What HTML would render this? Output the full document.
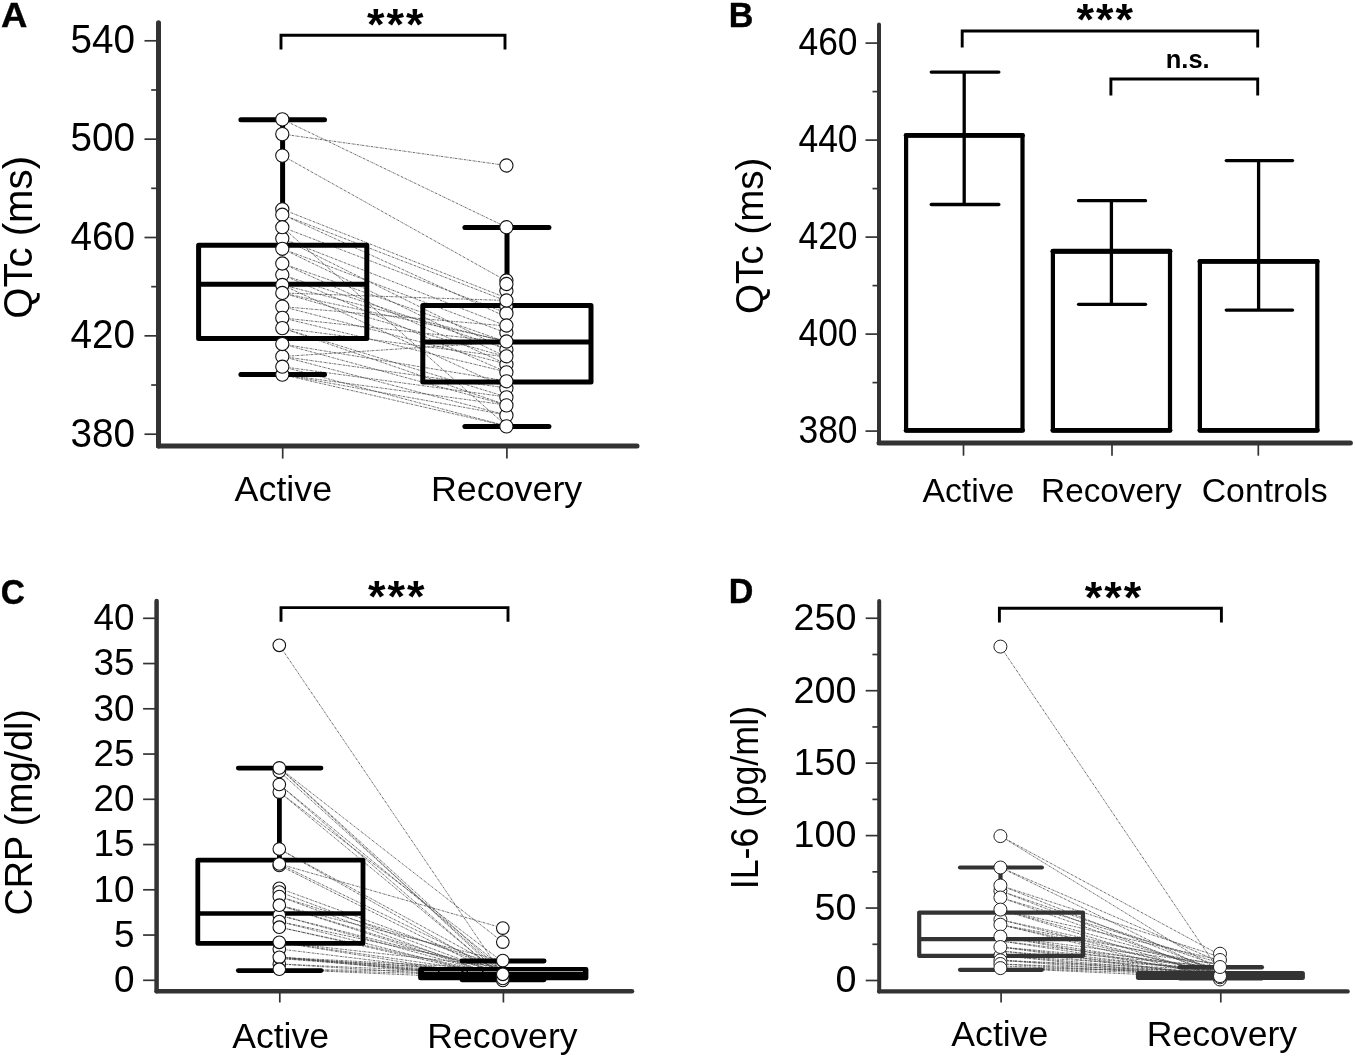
<!DOCTYPE html>
<html><head><meta charset="utf-8"><title>Figure</title>
<style>html,body{margin:0;padding:0;background:#fff}svg{display:block}text{font-family:"Liberation Sans",Arial,Helvetica,sans-serif}</style>
</head><body>
<svg width="1355" height="1059" viewBox="0 0 1355 1059">
<rect width="1355" height="1059" fill="#fff"/>
<line x1="158.50" y1="22.70" x2="158.50" y2="445.90" stroke="#333" stroke-width="5" stroke-linecap="round"/>
<line x1="158.50" y1="445.90" x2="637.00" y2="445.90" stroke="#333" stroke-width="5" stroke-linecap="round"/>
<line x1="144.50" y1="434.20" x2="158.50" y2="434.20" stroke="#333" stroke-width="1.7" stroke-linecap="butt" />
<text transform="translate(135.10 446.50) scale(0.9600 1)" font-size="40.3" text-anchor="end" fill="#000">380</text>
<line x1="144.50" y1="335.85" x2="158.50" y2="335.85" stroke="#333" stroke-width="1.7" stroke-linecap="butt" />
<text transform="translate(135.10 348.15) scale(0.9600 1)" font-size="40.3" text-anchor="end" fill="#000">420</text>
<line x1="144.50" y1="237.50" x2="158.50" y2="237.50" stroke="#333" stroke-width="1.7" stroke-linecap="butt" />
<text transform="translate(135.10 249.80) scale(0.9600 1)" font-size="40.3" text-anchor="end" fill="#000">460</text>
<line x1="144.50" y1="139.15" x2="158.50" y2="139.15" stroke="#333" stroke-width="1.7" stroke-linecap="butt" />
<text transform="translate(135.10 151.45) scale(0.9600 1)" font-size="40.3" text-anchor="end" fill="#000">500</text>
<line x1="144.50" y1="40.80" x2="158.50" y2="40.80" stroke="#333" stroke-width="1.7" stroke-linecap="butt" />
<text transform="translate(135.10 53.10) scale(0.9600 1)" font-size="40.3" text-anchor="end" fill="#000">540</text>
<line x1="151.20" y1="385.02" x2="158.50" y2="385.02" stroke="#333" stroke-width="1.7" stroke-linecap="butt" />
<line x1="151.20" y1="286.67" x2="158.50" y2="286.67" stroke="#333" stroke-width="1.7" stroke-linecap="butt" />
<line x1="151.20" y1="188.32" x2="158.50" y2="188.32" stroke="#333" stroke-width="1.7" stroke-linecap="butt" />
<line x1="151.20" y1="89.97" x2="158.50" y2="89.97" stroke="#333" stroke-width="1.7" stroke-linecap="butt" />
<line x1="282.70" y1="445.90" x2="282.70" y2="458.60" stroke="#333" stroke-width="1.7" stroke-linecap="butt" />
<text transform="translate(283.35 501.40)" font-size="35.8" text-anchor="middle" fill="#000">Active</text>
<line x1="506.90" y1="445.90" x2="506.90" y2="458.60" stroke="#333" stroke-width="1.7" stroke-linecap="butt" />
<text transform="translate(506.60 501.40)" font-size="35.8" text-anchor="middle" fill="#000">Recovery</text>
<text transform="translate(32.20 237.40) rotate(-90)" font-size="40.2" text-anchor="middle" fill="#000">QTc (ms)</text>
<text transform="translate(1.10 26.70) scale(1.0600 1)" font-size="34.5" text-anchor="start" font-weight="bold" stroke="#000" stroke-width="0.4" fill="#000">A</text>
<g stroke="#4a4a4a" stroke-width="0.8" stroke-dasharray="2.4 0.8 0.7 0.8" fill="none">
<line x1="282.40" y1="119.40" x2="506.50" y2="227.20"/>
<line x1="282.40" y1="134.10" x2="506.50" y2="165.50"/>
<line x1="282.40" y1="155.60" x2="506.50" y2="281.00"/>
<line x1="282.40" y1="209.30" x2="506.50" y2="298.00"/>
<line x1="282.40" y1="214.60" x2="506.50" y2="301.00"/>
<line x1="282.40" y1="214.60" x2="506.50" y2="317.00"/>
<line x1="282.40" y1="227.20" x2="506.50" y2="426.00"/>
<line x1="282.40" y1="227.20" x2="506.50" y2="313.00"/>
<line x1="282.40" y1="238.50" x2="506.50" y2="326.00"/>
<line x1="282.40" y1="238.50" x2="506.50" y2="350.00"/>
<line x1="282.40" y1="248.80" x2="506.50" y2="333.00"/>
<line x1="282.40" y1="248.80" x2="506.50" y2="357.00"/>
<line x1="282.40" y1="263.50" x2="506.50" y2="342.00"/>
<line x1="282.40" y1="263.50" x2="506.50" y2="364.00"/>
<line x1="282.40" y1="274.80" x2="506.50" y2="372.00"/>
<line x1="282.40" y1="274.80" x2="506.50" y2="349.00"/>
<line x1="282.40" y1="285.00" x2="506.50" y2="388.00"/>
<line x1="282.40" y1="285.00" x2="506.50" y2="342.00"/>
<line x1="282.40" y1="293.00" x2="506.50" y2="341.00"/>
<line x1="282.40" y1="293.00" x2="506.50" y2="357.00"/>
<line x1="282.40" y1="293.00" x2="506.50" y2="300.50"/>
<line x1="282.40" y1="306.60" x2="506.50" y2="364.00"/>
<line x1="282.40" y1="306.60" x2="506.50" y2="326.00"/>
<line x1="282.40" y1="317.90" x2="506.50" y2="372.00"/>
<line x1="282.40" y1="317.90" x2="506.50" y2="342.00"/>
<line x1="282.40" y1="328.10" x2="506.50" y2="397.00"/>
<line x1="282.40" y1="328.10" x2="506.50" y2="357.00"/>
<line x1="282.40" y1="328.10" x2="506.50" y2="405.00"/>
<line x1="282.40" y1="344.00" x2="506.50" y2="405.00"/>
<line x1="282.40" y1="344.00" x2="506.50" y2="381.00"/>
<line x1="282.40" y1="356.50" x2="506.50" y2="415.00"/>
<line x1="282.40" y1="356.50" x2="506.50" y2="388.00"/>
<line x1="282.40" y1="356.50" x2="506.50" y2="342.00"/>
<line x1="282.40" y1="366.70" x2="506.50" y2="426.00"/>
<line x1="282.40" y1="366.70" x2="506.50" y2="397.00"/>
<line x1="282.40" y1="374.60" x2="506.50" y2="415.00"/>
<line x1="282.40" y1="374.60" x2="506.50" y2="426.00"/>
<line x1="282.40" y1="374.60" x2="506.50" y2="405.00"/>
</g>
<line x1="282.60" y1="119.80" x2="282.60" y2="245.20" stroke="#000" stroke-width="5" stroke-linecap="butt" />
<line x1="282.60" y1="338.50" x2="282.60" y2="374.60" stroke="#000" stroke-width="5" stroke-linecap="butt" />
<line x1="240.90" y1="119.80" x2="324.50" y2="119.80" stroke="#000" stroke-width="5" stroke-linecap="round" />
<line x1="240.90" y1="374.60" x2="324.50" y2="374.60" stroke="#000" stroke-width="5" stroke-linecap="round" />
<rect x="198.60" y="245.20" width="168.20" height="93.30" fill="none" stroke="#000" stroke-width="5" stroke-linejoin="round"/>
<line x1="198.60" y1="284.30" x2="366.80" y2="284.30" stroke="#000" stroke-width="5" stroke-linecap="butt" />
<line x1="507.00" y1="227.40" x2="507.00" y2="305.40" stroke="#000" stroke-width="5" stroke-linecap="butt" />
<line x1="507.00" y1="382.00" x2="507.00" y2="426.60" stroke="#000" stroke-width="5" stroke-linecap="butt" />
<line x1="464.90" y1="227.40" x2="548.90" y2="227.40" stroke="#000" stroke-width="5" stroke-linecap="round" />
<line x1="464.90" y1="426.60" x2="548.90" y2="426.60" stroke="#000" stroke-width="5" stroke-linecap="round" />
<rect x="422.80" y="305.40" width="168.20" height="76.60" fill="none" stroke="#000" stroke-width="5" stroke-linejoin="round"/>
<line x1="422.80" y1="342.00" x2="591.00" y2="342.00" stroke="#000" stroke-width="5" stroke-linecap="butt" />
<g fill="#fff" stroke="#111" stroke-width="1.1">
<circle cx="282.30" cy="209.30" r="6.6"/>
<circle cx="282.30" cy="238.50" r="6.6"/>
<circle cx="282.30" cy="274.80" r="6.6"/>
<circle cx="282.30" cy="285.00" r="6.6"/>
<circle cx="282.30" cy="306.60" r="6.6"/>
<circle cx="282.30" cy="317.90" r="6.6"/>
<circle cx="282.30" cy="356.50" r="6.6"/>
<circle cx="282.30" cy="374.60" r="6.6"/>
<circle cx="282.30" cy="119.40" r="6.6"/>
<circle cx="282.30" cy="134.10" r="6.6"/>
<circle cx="282.30" cy="155.60" r="6.6"/>
<circle cx="282.30" cy="214.70" r="6.6"/>
<circle cx="282.30" cy="227.20" r="6.6"/>
<circle cx="282.30" cy="248.80" r="6.6"/>
<circle cx="282.30" cy="263.50" r="6.6"/>
<circle cx="282.30" cy="293.00" r="6.6"/>
<circle cx="282.30" cy="328.10" r="6.6"/>
<circle cx="282.30" cy="344.00" r="6.6"/>
<circle cx="282.30" cy="366.70" r="6.6"/>
</g>
<g fill="#fff" stroke="#111" stroke-width="1.1">
<circle cx="506.40" cy="280.50" r="6.6"/>
<circle cx="506.40" cy="290.70" r="6.6"/>
<circle cx="506.40" cy="306.60" r="6.6"/>
<circle cx="506.40" cy="313.40" r="6.6"/>
<circle cx="506.40" cy="332.70" r="6.6"/>
<circle cx="506.40" cy="349.70" r="6.6"/>
<circle cx="506.40" cy="364.40" r="6.6"/>
<circle cx="506.40" cy="372.30" r="6.6"/>
<circle cx="506.40" cy="388.20" r="6.6"/>
<circle cx="506.40" cy="397.30" r="6.6"/>
<circle cx="506.40" cy="415.40" r="6.6"/>
<circle cx="506.40" cy="165.50" r="6.6"/>
<circle cx="506.40" cy="227.20" r="6.6"/>
<circle cx="506.40" cy="284.00" r="6.6"/>
<circle cx="506.40" cy="300.50" r="6.6"/>
<circle cx="506.40" cy="325.50" r="6.6"/>
<circle cx="506.40" cy="341.50" r="6.6"/>
<circle cx="506.40" cy="356.30" r="6.6"/>
<circle cx="506.40" cy="381.30" r="6.6"/>
<circle cx="506.40" cy="405.40" r="6.6"/>
<circle cx="506.40" cy="426.40" r="6.6"/>
</g>
<polyline points="281.00,49.50 281.00,35.20 505.00,35.20 505.00,49.50" fill="none" stroke="#000" stroke-width="2.9" stroke-linejoin="miter"/>
<text transform="translate(396.15 40.00)" font-size="45" text-anchor="middle" font-weight="bold" letter-spacing="2" fill="#000">***</text>
<line x1="879.00" y1="24.50" x2="879.00" y2="442.90" stroke="#333" stroke-width="4" stroke-linecap="round"/>
<line x1="879.00" y1="442.90" x2="1350.40" y2="442.90" stroke="#333" stroke-width="5" stroke-linecap="round"/>
<line x1="865.50" y1="431.10" x2="879.00" y2="431.10" stroke="#333" stroke-width="1.7" stroke-linecap="butt" />
<text transform="translate(857.55 442.80) scale(0.9150 1)" font-size="38.7" text-anchor="end" fill="#000">380</text>
<line x1="865.50" y1="334.10" x2="879.00" y2="334.10" stroke="#333" stroke-width="1.7" stroke-linecap="butt" />
<text transform="translate(857.55 345.80) scale(0.9150 1)" font-size="38.7" text-anchor="end" fill="#000">400</text>
<line x1="865.50" y1="237.10" x2="879.00" y2="237.10" stroke="#333" stroke-width="1.7" stroke-linecap="butt" />
<text transform="translate(857.55 248.80) scale(0.9150 1)" font-size="38.7" text-anchor="end" fill="#000">420</text>
<line x1="865.50" y1="140.10" x2="879.00" y2="140.10" stroke="#333" stroke-width="1.7" stroke-linecap="butt" />
<text transform="translate(857.55 151.80) scale(0.9150 1)" font-size="38.7" text-anchor="end" fill="#000">440</text>
<line x1="865.50" y1="43.10" x2="879.00" y2="43.10" stroke="#333" stroke-width="1.7" stroke-linecap="butt" />
<text transform="translate(857.55 54.80) scale(0.9150 1)" font-size="38.7" text-anchor="end" fill="#000">460</text>
<line x1="872.50" y1="382.60" x2="879.00" y2="382.60" stroke="#333" stroke-width="1.7" stroke-linecap="butt" />
<line x1="872.50" y1="285.60" x2="879.00" y2="285.60" stroke="#333" stroke-width="1.7" stroke-linecap="butt" />
<line x1="872.50" y1="188.60" x2="879.00" y2="188.60" stroke="#333" stroke-width="1.7" stroke-linecap="butt" />
<line x1="872.50" y1="91.60" x2="879.00" y2="91.60" stroke="#333" stroke-width="1.7" stroke-linecap="butt" />
<line x1="963.50" y1="442.90" x2="963.50" y2="455.70" stroke="#333" stroke-width="1.7" stroke-linecap="butt" />
<text transform="translate(968.40 502.00)" font-size="33.8" text-anchor="middle" fill="#000">Active</text>
<line x1="1112.00" y1="442.90" x2="1112.00" y2="455.70" stroke="#333" stroke-width="1.7" stroke-linecap="butt" />
<text transform="translate(1111.40 502.00) scale(0.9850 1)" font-size="33.8" text-anchor="middle" fill="#000">Recovery</text>
<line x1="1258.30" y1="442.90" x2="1258.30" y2="455.70" stroke="#333" stroke-width="1.7" stroke-linecap="butt" />
<text transform="translate(1264.60 502.00)" font-size="33.8" text-anchor="middle" fill="#000">Controls</text>
<text transform="translate(762.60 235.75) rotate(-90)" font-size="38.6" text-anchor="middle" fill="#000">QTc (ms)</text>
<text transform="translate(728.70 26.80) scale(0.9800 1)" font-size="34.8" text-anchor="start" font-weight="bold" stroke="#000" stroke-width="0.4" fill="#000">B</text>
<rect x="906.10" y="135.40" width="116.40" height="295.00" fill="#fff" stroke="#000" stroke-width="4.2" stroke-linejoin="round"/>
<line x1="906.10" y1="135.40" x2="1022.50" y2="135.40" stroke="#000" stroke-width="4.9" stroke-linecap="round" />
<line x1="906.10" y1="430.40" x2="1022.50" y2="430.40" stroke="#000" stroke-width="4.9" stroke-linecap="round" />
<rect x="1052.90" y="251.30" width="117.10" height="179.10" fill="#fff" stroke="#000" stroke-width="4.2" stroke-linejoin="round"/>
<line x1="1052.90" y1="251.30" x2="1170.00" y2="251.30" stroke="#000" stroke-width="4.9" stroke-linecap="round" />
<line x1="1052.90" y1="430.40" x2="1170.00" y2="430.40" stroke="#000" stroke-width="4.9" stroke-linecap="round" />
<rect x="1199.90" y="261.40" width="117.40" height="169.00" fill="#fff" stroke="#000" stroke-width="4.2" stroke-linejoin="round"/>
<line x1="1199.90" y1="261.40" x2="1317.30" y2="261.40" stroke="#000" stroke-width="4.9" stroke-linecap="round" />
<line x1="1199.90" y1="430.40" x2="1317.30" y2="430.40" stroke="#000" stroke-width="4.9" stroke-linecap="round" />
<line x1="964.20" y1="72.10" x2="964.20" y2="204.50" stroke="#000" stroke-width="3.3" stroke-linecap="butt" />
<line x1="931.25" y1="72.10" x2="998.85" y2="72.10" stroke="#000" stroke-width="3.3" stroke-linecap="round" />
<line x1="931.25" y1="204.50" x2="998.85" y2="204.50" stroke="#000" stroke-width="3.3" stroke-linecap="round" />
<line x1="1111.40" y1="200.70" x2="1111.40" y2="304.30" stroke="#000" stroke-width="3.3" stroke-linecap="butt" />
<line x1="1078.55" y1="200.70" x2="1145.55" y2="200.70" stroke="#000" stroke-width="3.3" stroke-linecap="round" />
<line x1="1078.55" y1="304.30" x2="1145.55" y2="304.30" stroke="#000" stroke-width="3.3" stroke-linecap="round" />
<line x1="1258.60" y1="160.60" x2="1258.60" y2="310.10" stroke="#000" stroke-width="3.3" stroke-linecap="butt" />
<line x1="1226.25" y1="160.60" x2="1292.55" y2="160.60" stroke="#000" stroke-width="3.3" stroke-linecap="round" />
<line x1="1226.25" y1="310.10" x2="1292.55" y2="310.10" stroke="#000" stroke-width="3.3" stroke-linecap="round" />
<polyline points="962.20,47.60 962.20,31.00 1257.70,31.00 1257.70,47.60" fill="none" stroke="#000" stroke-width="2.9" stroke-linejoin="miter"/>
<polyline points="1110.90,95.40 1110.90,79.00 1257.70,79.00 1257.70,95.40" fill="none" stroke="#000" stroke-width="2.9" stroke-linejoin="miter"/>
<text transform="translate(1105.80 34.70)" font-size="45" text-anchor="middle" font-weight="bold" letter-spacing="2" fill="#000">***</text>
<text transform="translate(1187.70 68.30)" font-size="25.5" text-anchor="middle" font-weight="bold" fill="#000">n.s.</text>
<line x1="156.60" y1="601.00" x2="156.60" y2="991.30" stroke="#333" stroke-width="4.5" stroke-linecap="round"/>
<line x1="156.60" y1="991.30" x2="632.00" y2="991.30" stroke="#333" stroke-width="4.5" stroke-linecap="round"/>
<line x1="143.10" y1="980.30" x2="156.60" y2="980.30" stroke="#333" stroke-width="1.7" stroke-linecap="butt" />
<text transform="translate(134.60 992.10)" font-size="36.9" text-anchor="end" fill="#000">0</text>
<line x1="143.10" y1="935.05" x2="156.60" y2="935.05" stroke="#333" stroke-width="1.7" stroke-linecap="butt" />
<text transform="translate(134.60 946.85)" font-size="36.9" text-anchor="end" fill="#000">5</text>
<line x1="143.10" y1="889.80" x2="156.60" y2="889.80" stroke="#333" stroke-width="1.7" stroke-linecap="butt" />
<text transform="translate(134.60 901.60)" font-size="36.9" text-anchor="end" fill="#000">10</text>
<line x1="143.10" y1="844.55" x2="156.60" y2="844.55" stroke="#333" stroke-width="1.7" stroke-linecap="butt" />
<text transform="translate(134.60 856.35)" font-size="36.9" text-anchor="end" fill="#000">15</text>
<line x1="143.10" y1="799.30" x2="156.60" y2="799.30" stroke="#333" stroke-width="1.7" stroke-linecap="butt" />
<text transform="translate(134.60 811.10)" font-size="36.9" text-anchor="end" fill="#000">20</text>
<line x1="143.10" y1="754.05" x2="156.60" y2="754.05" stroke="#333" stroke-width="1.7" stroke-linecap="butt" />
<text transform="translate(134.60 765.85)" font-size="36.9" text-anchor="end" fill="#000">25</text>
<line x1="143.10" y1="708.80" x2="156.60" y2="708.80" stroke="#333" stroke-width="1.7" stroke-linecap="butt" />
<text transform="translate(134.60 720.60)" font-size="36.9" text-anchor="end" fill="#000">30</text>
<line x1="143.10" y1="663.55" x2="156.60" y2="663.55" stroke="#333" stroke-width="1.7" stroke-linecap="butt" />
<text transform="translate(134.60 675.35)" font-size="36.9" text-anchor="end" fill="#000">35</text>
<line x1="143.10" y1="618.30" x2="156.60" y2="618.30" stroke="#333" stroke-width="1.7" stroke-linecap="butt" />
<text transform="translate(134.60 630.10)" font-size="36.9" text-anchor="end" fill="#000">40</text>
<line x1="279.80" y1="991.30" x2="279.80" y2="1002.50" stroke="#333" stroke-width="1.7" stroke-linecap="butt" />
<text transform="translate(280.60 1048.40)" font-size="35.6" text-anchor="middle" fill="#000">Active</text>
<line x1="503.40" y1="991.30" x2="503.40" y2="1002.50" stroke="#333" stroke-width="1.7" stroke-linecap="butt" />
<text transform="translate(502.40 1048.40)" font-size="35.6" text-anchor="middle" fill="#000">Recovery</text>
<text transform="translate(32.20 812.30) rotate(-90) scale(0.9650 1)" font-size="39" text-anchor="middle" fill="#000">CRP (mg/dl)</text>
<text transform="translate(0.80 603.60) scale(0.9600 1)" font-size="34.8" text-anchor="start" font-weight="bold" stroke="#000" stroke-width="0.4" fill="#000">C</text>
<g stroke="#4a4a4a" stroke-width="0.8" stroke-dasharray="2.4 0.8 0.7 0.8" fill="none">
<line x1="279.40" y1="645.30" x2="502.80" y2="975.00"/>
<line x1="279.40" y1="767.90" x2="502.80" y2="942.10"/>
<line x1="279.40" y1="767.90" x2="502.80" y2="972.00"/>
<line x1="279.40" y1="767.90" x2="502.80" y2="976.50"/>
<line x1="279.40" y1="771.40" x2="502.80" y2="974.00"/>
<line x1="279.40" y1="784.50" x2="502.80" y2="968.00"/>
<line x1="279.40" y1="784.50" x2="502.80" y2="978.00"/>
<line x1="279.40" y1="792.10" x2="502.80" y2="977.00"/>
<line x1="279.40" y1="792.10" x2="502.80" y2="962.00"/>
<line x1="279.40" y1="849.00" x2="502.80" y2="970.00"/>
<line x1="279.40" y1="849.00" x2="502.80" y2="976.00"/>
<line x1="279.40" y1="864.00" x2="502.80" y2="928.10"/>
<line x1="279.40" y1="864.00" x2="502.80" y2="972.00"/>
<line x1="279.40" y1="865.50" x2="502.80" y2="977.00"/>
<line x1="279.40" y1="888.30" x2="502.80" y2="970.00"/>
<line x1="279.40" y1="892.00" x2="502.80" y2="975.00"/>
<line x1="279.40" y1="896.50" x2="502.80" y2="978.00"/>
<line x1="279.40" y1="896.50" x2="502.80" y2="966.00"/>
<line x1="279.40" y1="905.20" x2="502.80" y2="974.00"/>
<line x1="279.40" y1="905.20" x2="502.80" y2="977.00"/>
<line x1="279.40" y1="905.20" x2="502.80" y2="961.00"/>
<line x1="279.40" y1="915.30" x2="502.80" y2="972.00"/>
<line x1="279.40" y1="915.30" x2="502.80" y2="976.00"/>
<line x1="279.40" y1="921.50" x2="502.80" y2="978.00"/>
<line x1="279.40" y1="921.50" x2="502.80" y2="969.00"/>
<line x1="279.40" y1="927.20" x2="502.80" y2="975.00"/>
<line x1="279.40" y1="927.20" x2="502.80" y2="977.50"/>
<line x1="279.40" y1="942.30" x2="502.80" y2="967.00"/>
<line x1="279.40" y1="942.30" x2="502.80" y2="974.00"/>
<line x1="279.40" y1="942.30" x2="502.80" y2="978.00"/>
<line x1="279.40" y1="949.00" x2="502.80" y2="976.00"/>
<line x1="279.40" y1="957.30" x2="502.80" y2="969.00"/>
<line x1="279.40" y1="957.30" x2="502.80" y2="972.50"/>
<line x1="279.40" y1="957.30" x2="502.80" y2="975.00"/>
<line x1="279.40" y1="957.30" x2="502.80" y2="977.00"/>
<line x1="279.40" y1="957.30" x2="502.80" y2="978.80"/>
<line x1="279.40" y1="958.50" x2="502.80" y2="971.00"/>
<line x1="279.40" y1="958.50" x2="502.80" y2="976.00"/>
<line x1="279.40" y1="964.00" x2="502.80" y2="974.00"/>
<line x1="279.40" y1="964.00" x2="502.80" y2="978.00"/>
<line x1="279.40" y1="969.20" x2="502.80" y2="972.00"/>
<line x1="279.40" y1="969.20" x2="502.80" y2="976.00"/>
<line x1="279.40" y1="969.20" x2="502.80" y2="979.00"/>
</g>
<line x1="279.40" y1="768.10" x2="279.40" y2="860.10" stroke="#000" stroke-width="4.8" stroke-linecap="butt" />
<line x1="279.40" y1="943.40" x2="279.40" y2="970.60" stroke="#000" stroke-width="4.8" stroke-linecap="butt" />
<line x1="238.30" y1="768.10" x2="321.00" y2="768.10" stroke="#000" stroke-width="4.8" stroke-linecap="round" />
<line x1="238.30" y1="970.60" x2="321.00" y2="970.60" stroke="#000" stroke-width="4.8" stroke-linecap="round" />
<rect x="197.80" y="860.10" width="165.20" height="83.30" fill="none" stroke="#000" stroke-width="4.8" stroke-linejoin="round"/>
<line x1="197.80" y1="913.50" x2="363.00" y2="913.50" stroke="#000" stroke-width="4.4" stroke-linecap="butt" />
<line x1="502.90" y1="961.00" x2="502.90" y2="979.50" stroke="#000" stroke-width="4.8" stroke-linecap="butt" />
<line x1="462.00" y1="961.00" x2="544.10" y2="961.00" stroke="#000" stroke-width="4.8" stroke-linecap="round" />
<line x1="462.00" y1="979.80" x2="544.10" y2="979.80" stroke="#000" stroke-width="4.8" stroke-linecap="round" />
<rect x="418.10" y="967.00" width="170.30" height="13.30" rx="2.4" fill="#000"/>
<line x1="424.00" y1="971.50" x2="500.00" y2="971.50" stroke="#999" stroke-width="0.9" stroke-linecap="butt" stroke-dasharray="14 1.5 22 2 3 1.5"/>
<line x1="509.00" y1="971.50" x2="583.00" y2="971.50" stroke="#aaa" stroke-width="0.9" stroke-linecap="butt" />
<g fill="#fff" stroke="#111" stroke-width="1.1">
<circle cx="279.30" cy="771.40" r="6.3"/>
<circle cx="279.30" cy="792.10" r="6.3"/>
<circle cx="279.30" cy="865.50" r="6.3"/>
<circle cx="279.30" cy="888.30" r="6.3"/>
<circle cx="279.30" cy="892.00" r="6.3"/>
<circle cx="279.30" cy="896.50" r="6.3"/>
<circle cx="279.30" cy="915.30" r="6.3"/>
<circle cx="279.30" cy="921.50" r="6.3"/>
<circle cx="279.30" cy="949.00" r="6.3"/>
<circle cx="279.30" cy="964.00" r="6.3"/>
<circle cx="279.30" cy="645.30" r="6.3"/>
<circle cx="279.30" cy="767.90" r="6.3"/>
<circle cx="279.30" cy="784.50" r="6.3"/>
<circle cx="279.30" cy="849.00" r="6.3"/>
<circle cx="279.30" cy="864.00" r="6.3"/>
<circle cx="279.30" cy="905.20" r="6.3"/>
<circle cx="279.30" cy="927.20" r="6.3"/>
<circle cx="279.30" cy="942.30" r="6.3"/>
<circle cx="279.30" cy="957.30" r="6.3"/>
<circle cx="279.30" cy="969.20" r="6.3"/>
</g>
<g fill="#fff" stroke="#111" stroke-width="1.1">
<circle cx="502.80" cy="980.50" r="6.3"/>
<circle cx="502.80" cy="978.50" r="6.3"/>
<circle cx="502.80" cy="974.30" r="6.3"/>
<circle cx="502.80" cy="960.60" r="6.3"/>
<circle cx="502.80" cy="942.10" r="6.3"/>
<circle cx="502.80" cy="928.10" r="6.3"/>
</g>
<polyline points="281.00,621.80 281.00,607.60 508.00,607.60 508.00,621.80" fill="none" stroke="#000" stroke-width="2.9" stroke-linejoin="miter"/>
<text transform="translate(397.15 611.90)" font-size="45" text-anchor="middle" font-weight="bold" letter-spacing="2" fill="#000">***</text>
<line x1="879.20" y1="601.00" x2="879.20" y2="991.40" stroke="#333" stroke-width="4" stroke-linecap="round"/>
<line x1="879.20" y1="991.40" x2="1347.60" y2="991.40" stroke="#333" stroke-width="4.4" stroke-linecap="round"/>
<line x1="865.70" y1="980.50" x2="879.20" y2="980.50" stroke="#333" stroke-width="1.7" stroke-linecap="butt" />
<text transform="translate(856.40 992.30) scale(1.0200 1)" font-size="37" text-anchor="end" fill="#000">0</text>
<line x1="865.70" y1="908.05" x2="879.20" y2="908.05" stroke="#333" stroke-width="1.7" stroke-linecap="butt" />
<text transform="translate(856.40 919.85) scale(1.0200 1)" font-size="37" text-anchor="end" fill="#000">50</text>
<line x1="865.70" y1="835.60" x2="879.20" y2="835.60" stroke="#333" stroke-width="1.7" stroke-linecap="butt" />
<text transform="translate(856.40 847.40) scale(1.0200 1)" font-size="37" text-anchor="end" fill="#000">100</text>
<line x1="865.70" y1="763.15" x2="879.20" y2="763.15" stroke="#333" stroke-width="1.7" stroke-linecap="butt" />
<text transform="translate(856.40 774.95) scale(1.0200 1)" font-size="37" text-anchor="end" fill="#000">150</text>
<line x1="865.70" y1="690.70" x2="879.20" y2="690.70" stroke="#333" stroke-width="1.7" stroke-linecap="butt" />
<text transform="translate(856.40 702.50) scale(1.0200 1)" font-size="37" text-anchor="end" fill="#000">200</text>
<line x1="865.70" y1="618.25" x2="879.20" y2="618.25" stroke="#333" stroke-width="1.7" stroke-linecap="butt" />
<text transform="translate(856.40 630.05) scale(1.0200 1)" font-size="37" text-anchor="end" fill="#000">250</text>
<line x1="872.40" y1="944.30" x2="879.20" y2="944.30" stroke="#333" stroke-width="1.7" stroke-linecap="butt" />
<line x1="872.40" y1="871.85" x2="879.20" y2="871.85" stroke="#333" stroke-width="1.7" stroke-linecap="butt" />
<line x1="872.40" y1="799.40" x2="879.20" y2="799.40" stroke="#333" stroke-width="1.7" stroke-linecap="butt" />
<line x1="872.40" y1="726.95" x2="879.20" y2="726.95" stroke="#333" stroke-width="1.7" stroke-linecap="butt" />
<line x1="872.40" y1="654.50" x2="879.20" y2="654.50" stroke="#333" stroke-width="1.7" stroke-linecap="butt" />
<line x1="1001.10" y1="991.40" x2="1001.10" y2="1002.50" stroke="#333" stroke-width="1.7" stroke-linecap="butt" />
<text transform="translate(999.80 1045.50)" font-size="35.6" text-anchor="middle" fill="#000">Active</text>
<line x1="1220.80" y1="991.40" x2="1220.80" y2="1002.50" stroke="#333" stroke-width="1.7" stroke-linecap="butt" />
<text transform="translate(1221.95 1045.50)" font-size="35.6" text-anchor="middle" fill="#000">Recovery</text>
<text transform="translate(757.60 797.60) rotate(-90) scale(0.9250 1)" font-size="38.8" text-anchor="middle" fill="#000">IL-6 (pg/ml)</text>
<text transform="translate(728.70 603.40) scale(0.9800 1)" font-size="34.8" text-anchor="start" font-weight="bold" stroke="#000" stroke-width="0.4" fill="#000">D</text>
<g stroke="#4a4a4a" stroke-width="0.8" stroke-dasharray="2.4 0.8 0.7 0.8" fill="none">
<line x1="1000.50" y1="646.60" x2="1220.00" y2="972.00"/>
<line x1="1000.50" y1="836.10" x2="1220.00" y2="955.00"/>
<line x1="1000.50" y1="836.10" x2="1220.00" y2="971.00"/>
<line x1="1000.50" y1="867.50" x2="1220.00" y2="962.00"/>
<line x1="1000.50" y1="867.50" x2="1220.00" y2="975.00"/>
<line x1="1000.50" y1="885.50" x2="1220.00" y2="957.00"/>
<line x1="1000.50" y1="885.50" x2="1220.00" y2="972.00"/>
<line x1="1000.50" y1="890.90" x2="1220.00" y2="966.00"/>
<line x1="1000.50" y1="890.90" x2="1220.00" y2="976.00"/>
<line x1="1000.50" y1="897.50" x2="1220.00" y2="963.00"/>
<line x1="1000.50" y1="897.50" x2="1220.00" y2="974.00"/>
<line x1="1000.50" y1="909.60" x2="1220.00" y2="960.00"/>
<line x1="1000.50" y1="909.60" x2="1220.00" y2="970.00"/>
<line x1="1000.50" y1="909.60" x2="1220.00" y2="977.00"/>
<line x1="1000.50" y1="919.70" x2="1220.00" y2="968.00"/>
<line x1="1000.50" y1="919.70" x2="1220.00" y2="975.00"/>
<line x1="1000.50" y1="924.70" x2="1220.00" y2="965.00"/>
<line x1="1000.50" y1="924.70" x2="1220.00" y2="973.00"/>
<line x1="1000.50" y1="924.70" x2="1220.00" y2="978.00"/>
<line x1="1000.50" y1="936.60" x2="1220.00" y2="964.00"/>
<line x1="1000.50" y1="936.60" x2="1220.00" y2="971.00"/>
<line x1="1000.50" y1="936.60" x2="1220.00" y2="976.00"/>
<line x1="1000.50" y1="941.00" x2="1220.00" y2="968.00"/>
<line x1="1000.50" y1="941.00" x2="1220.00" y2="974.00"/>
<line x1="1000.50" y1="947.00" x2="1220.00" y2="967.00"/>
<line x1="1000.50" y1="947.00" x2="1220.00" y2="972.00"/>
<line x1="1000.50" y1="947.00" x2="1220.00" y2="977.00"/>
<line x1="1000.50" y1="951.00" x2="1220.00" y2="970.00"/>
<line x1="1000.50" y1="951.00" x2="1220.00" y2="975.00"/>
<line x1="1000.50" y1="955.60" x2="1220.00" y2="969.00"/>
<line x1="1000.50" y1="955.60" x2="1220.00" y2="974.00"/>
<line x1="1000.50" y1="955.60" x2="1220.00" y2="978.00"/>
<line x1="1000.50" y1="960.30" x2="1220.00" y2="970.00"/>
<line x1="1000.50" y1="960.30" x2="1220.00" y2="973.00"/>
<line x1="1000.50" y1="960.30" x2="1220.00" y2="977.00"/>
<line x1="1000.50" y1="964.00" x2="1220.00" y2="972.00"/>
<line x1="1000.50" y1="964.00" x2="1220.00" y2="976.00"/>
<line x1="1000.50" y1="966.00" x2="1220.00" y2="974.00"/>
<line x1="1000.50" y1="968.10" x2="1220.00" y2="971.00"/>
<line x1="1000.50" y1="968.10" x2="1220.00" y2="975.00"/>
<line x1="1000.50" y1="968.10" x2="1220.00" y2="978.00"/>
</g>
<line x1="1000.50" y1="867.50" x2="1000.50" y2="912.60" stroke="#333" stroke-width="4.2" stroke-linecap="butt" />
<line x1="1000.50" y1="955.90" x2="1000.50" y2="969.80" stroke="#333" stroke-width="4.2" stroke-linecap="butt" />
<line x1="960.00" y1="867.50" x2="1041.90" y2="867.50" stroke="#333" stroke-width="4.2" stroke-linecap="round" />
<line x1="960.00" y1="969.80" x2="1041.90" y2="969.80" stroke="#333" stroke-width="4.2" stroke-linecap="round" />
<rect x="919.20" y="912.60" width="163.80" height="43.30" fill="none" stroke="#333" stroke-width="4.2" stroke-linejoin="round"/>
<line x1="919.20" y1="939.10" x2="1083.00" y2="939.10" stroke="#333" stroke-width="4.2" stroke-linecap="butt" />
<line x1="1220.30" y1="967.10" x2="1220.30" y2="980.00" stroke="#333" stroke-width="4.2" stroke-linecap="butt" />
<line x1="1179.70" y1="967.20" x2="1261.80" y2="967.20" stroke="#333" stroke-width="4.4" stroke-linecap="round" />
<line x1="1179.70" y1="978.20" x2="1261.80" y2="978.20" stroke="#333" stroke-width="4.4" stroke-linecap="round" />
<rect x="1135.90" y="971.00" width="169.00" height="9.00" rx="2.5" fill="#333"/>
<g fill="#fff" stroke="#222" stroke-width="1.0">
<circle cx="1000.40" cy="890.90" r="6.5"/>
<circle cx="1000.40" cy="919.70" r="6.5"/>
<circle cx="1000.40" cy="955.60" r="6.5"/>
<circle cx="1000.40" cy="960.30" r="6.5"/>
<circle cx="1000.40" cy="964.00" r="6.5"/>
<circle cx="1000.40" cy="646.60" r="6.5"/>
<circle cx="1000.40" cy="836.10" r="6.5"/>
<circle cx="1000.40" cy="867.50" r="6.5"/>
<circle cx="1000.40" cy="885.50" r="6.5"/>
<circle cx="1000.40" cy="897.50" r="6.5"/>
<circle cx="1000.40" cy="909.60" r="6.5"/>
<circle cx="1000.40" cy="924.70" r="6.5"/>
<circle cx="1000.40" cy="936.60" r="6.5"/>
<circle cx="1000.40" cy="947.00" r="6.5"/>
<circle cx="1000.40" cy="968.10" r="6.5"/>
</g>
<g fill="#fff" stroke="#222" stroke-width="1.0">
<circle cx="1220.00" cy="979.50" r="6.5"/>
<circle cx="1220.00" cy="977.30" r="6.5"/>
<circle cx="1220.00" cy="953.70" r="6.5"/>
<circle cx="1220.00" cy="960.00" r="6.5"/>
<circle cx="1220.00" cy="976.10" r="6.5"/>
<circle cx="1220.00" cy="967.00" r="6.5"/>
</g>
<polyline points="999.40,622.60 999.40,608.30 1221.40,608.30 1221.40,622.60" fill="none" stroke="#000" stroke-width="2.9" stroke-linejoin="miter"/>
<text transform="translate(1113.95 612.70)" font-size="45" text-anchor="middle" font-weight="bold" letter-spacing="2" fill="#000">***</text>
</svg>
</body></html>
